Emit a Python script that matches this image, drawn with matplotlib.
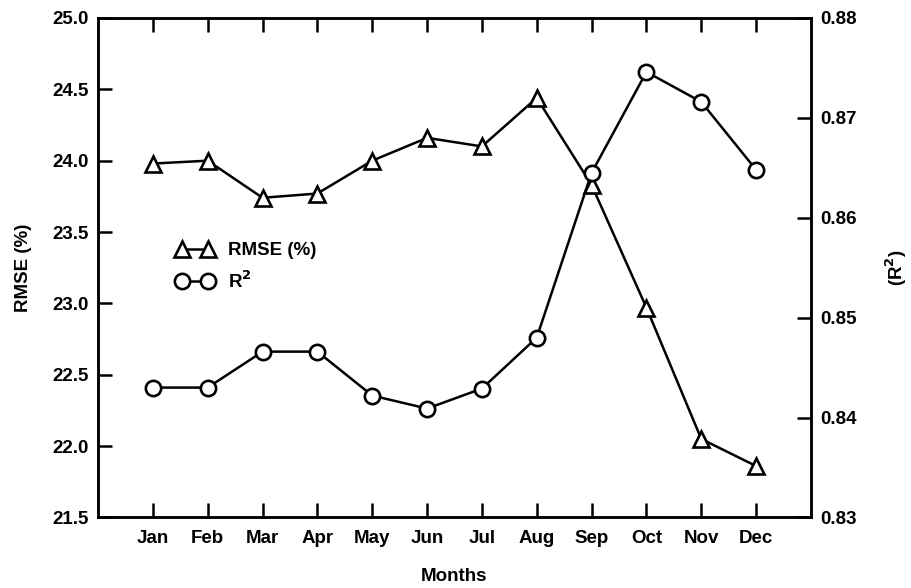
import numpy as np
import matplotlib.pyplot as plt

plt.rcParams['font.family'] = ['Liberation Sans', 'DejaVu Sans']
plt.rcParams['font.weight'] = 'bold'
plt.rcParams['mathtext.default'] = 'bf'

months = ['Jan', 'Feb', 'Mar', 'Apr', 'May', 'Jun', 'Jul', 'Aug', 'Sep', 'Oct', 'Nov', 'Dec']
rmse = [23.98, 24.0, 23.74, 23.77, 24.0, 24.16, 24.10, 24.44, 23.83, 22.97, 22.05, 21.86]
r2 = [0.8430, 0.8430, 0.8466, 0.8466, 0.8422, 0.8409, 0.8429, 0.8480, 0.8645, 0.8746, 0.8716, 0.8648]

x = np.arange(len(months))
fs = 13.5

fig = plt.figure(figsize=(9.12, 5.88), dpi=100)
ax = fig.add_axes([0.1075, 0.12, 0.7817, 0.8494])
ax2 = ax.twinx()

l1, = ax.plot(x, rmse, color='black', lw=1.8, marker='^', ms=11,
              mfc='white', mec='black', mew=1.9, label='RMSE (%)')
l2, = ax2.plot(x, r2, color='black', lw=1.8, marker='o', ms=11,
               mfc='white', mec='black', mew=1.9, label='R$^2$')

ax.set_xlim(-1, 12)
ax.set_ylim(21.5, 25.0)
ax2.set_ylim(0.83, 0.88)
ax.set_xticks(x)
ax.set_xticklabels(months)
ax.set_yticks(np.arange(21.5, 25.01, 0.5))
ax.set_yticklabels([f'{v:.1f}' for v in np.arange(21.5, 25.01, 0.5)])
ax2.set_yticks(np.arange(0.83, 0.8801, 0.01))
ax2.set_yticklabels([f'{v:.2f}' for v in np.arange(0.83, 0.8801, 0.01)])

for a in (ax, ax2):
    for s in a.spines.values():
        s.set_linewidth(1.8)
ax.tick_params(axis='x', direction='in', length=10, width=1.8, top=True,
               labelsize=fs, pad=9)
ax.tick_params(axis='y', direction='in', length=10, width=1.8,
               labelsize=fs, pad=7)
ax2.tick_params(axis='y', direction='in', length=10, width=1.8,
                labelsize=fs, pad=7)

ax.set_xlabel('Months', fontsize=fs, fontweight='bold', labelpad=15)
ax.set_ylabel('RMSE (%)', fontsize=fs, fontweight='bold', labelpad=14)
ax2.set_ylabel('(R$^2$)', fontsize=fs, fontweight='bold', labelpad=19)

ax2.legend([l1, l2], ['RMSE (%)', 'R$^2$'], loc='upper left',
           bbox_to_anchor=(176 / 912, 1 - 242 / 588), bbox_transform=fig.transFigure,
           frameon=False, numpoints=2, handlelength=2.0, handletextpad=0.8,
           labelspacing=0.6, borderpad=0, borderaxespad=0,
           prop={'size': fs, 'weight': 'bold'})

fig.savefig('out.png', dpi=100)
